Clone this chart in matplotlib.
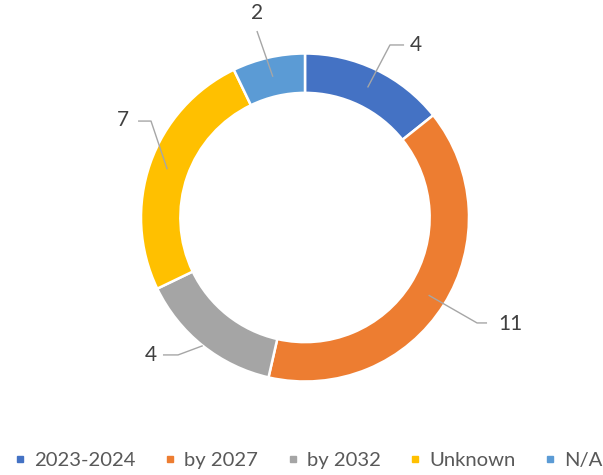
import numpy as np
import matplotlib
matplotlib.use("Agg")
import matplotlib.pyplot as plt

categories = ["2023-2024", "by 2027", "by 2032", "Unknown", "N/A"]
values = [4, 11, 4, 7, 2]
colors = ["#4472C4", "#ED7D31", "#A5A5A5", "#FFC000", "#5B9BD5"]

# label placement in units of the outer radius
label_pos = [(0.677, 1.052), (1.25, -0.649), (-0.939, -0.838), (-1.11, 0.595), (-0.293, 1.244)]
elbow_pos = [(0.518, 1.052), (1.049, -0.643), (-0.774, -0.838), (-0.939, 0.588), (-0.293, 1.137)]
text_edge = [(0.604, 1.052), (1.11, -0.643), (-0.866, -0.838), (-1.018, 0.588), (-0.293, 1.137)]
leader_r = [0.88, 0.89, 1.0, 0.89, 0.88]

fig = plt.figure(figsize=(6.03, 4.75), dpi=100)
ax = fig.add_axes([0, 0, 1, 1])
cx, cy, R = 305, 217.5, 164

ring = 0.24
wedges, _ = ax.pie(values, colors=colors, startangle=90, counterclock=False,
                   radius=1.0, wedgeprops=dict(width=ring, edgecolor="white", linewidth=1.8),
                   frame=False)
ax.set_xlim(-cx / R, (603 - cx) / R)
ax.set_ylim(-(475 - cy) / R, cy / R)
ax.set_aspect("auto")
ax.axis("off")

total = sum(values)
cum = np.cumsum([0] + values)
line_col = "#A6A6A6"
for i, v in enumerate(values):
    mid = 90 - 360 * (cum[i] + v / 2) / total
    rr = leader_r[i]
    px, py = rr * np.cos(np.radians(mid)), rr * np.sin(np.radians(mid))
    ex, ey = elbow_pos[i]
    tx, ty = text_edge[i]
    ax.plot([px, ex, tx], [py, ey, ty], color=line_col, lw=1.0, solid_capstyle="butt", zorder=5)
    lx, ly = label_pos[i]
    ax.text(lx, ly, str(v), ha="center", va="center", fontsize=15, color="#404040",
            family="Lato")

handles = [plt.Line2D([], [], marker="s", linestyle="none", markersize=5,
                      markerfacecolor=c, markeredgecolor=c) for c in colors]
leg = fig.legend(handles, categories, loc="center", bbox_to_anchor=(0.512, 1 - 460 / 475),
                 ncol=5, frameon=False, handlelength=0.5, handletextpad=0.45,
                 columnspacing=1.45, labelcolor="#595959", prop=dict(family="Lato", size=14.6),
                 borderaxespad=0, borderpad=0)

fig.savefig("out.png", dpi=100, facecolor="white")
